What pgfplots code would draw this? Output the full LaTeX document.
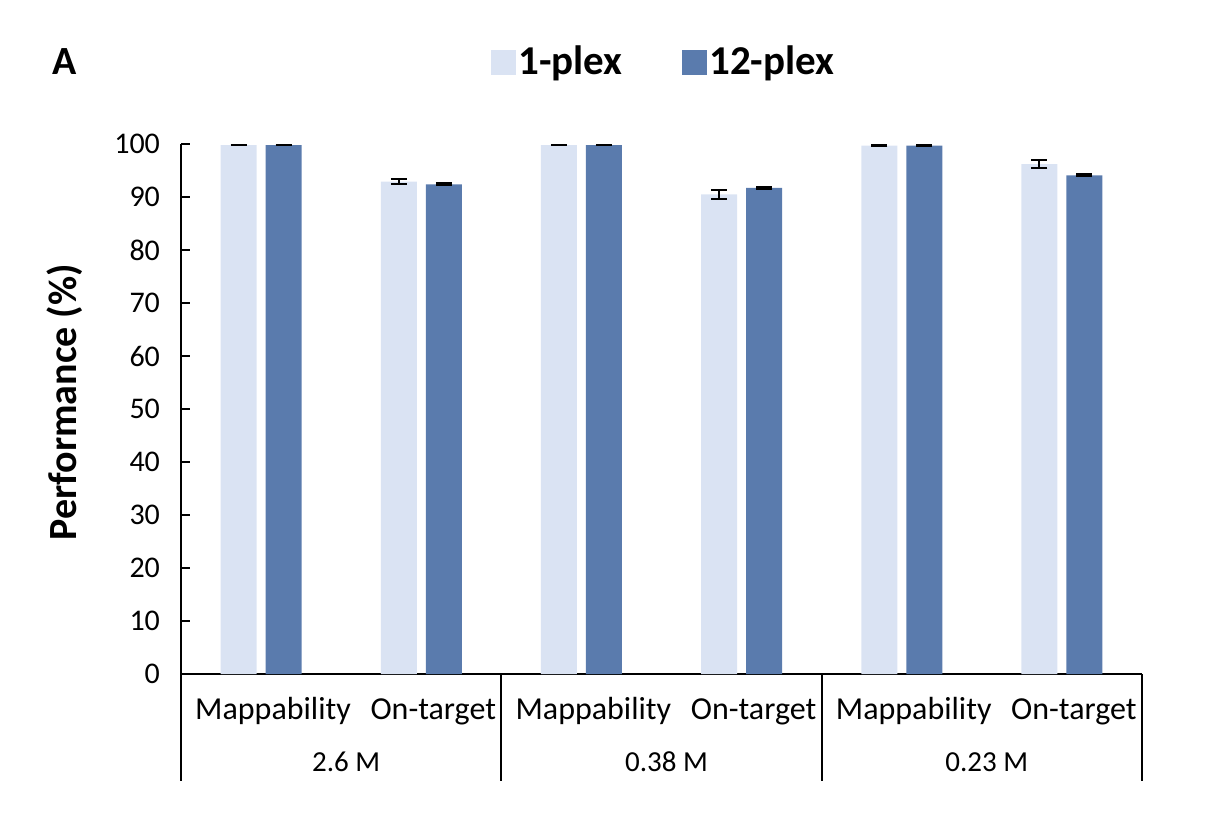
\documentclass[border=0pt]{standalone}
\usepackage{pgfplots}
\pgfplotsset{compat=1.18}
\usepackage{pgfplotstable}
\usepackage{fontspec}
\setmainfont{Carlito}
\definecolor{lightbar}{HTML}{DAE3F3}
\definecolor{darkbar}{HTML}{5A7BAD}
\pgfplotstableread{
x y1 e1 y2 e2
0 99.8 0.08 99.8 0.08
1 92.9 0.5 92.4 0.2
2 99.8 0.05 99.8 0.05
3 90.5 0.8 91.7 0.2
4 99.7 0.05 99.7 0.05
5 96.2 0.75 94.1 0.15
}\data
\begin{document}
\begin{tikzpicture}
\useasboundingbox (0,0) rectangle (604.5pt,418.5pt);
\node[anchor=west, inner sep=0pt, font=\bfseries\fontsize{20}{20}\selectfont] at (26pt,387.5pt) {A};
\begin{axis}[
  at={(90.5pt,81.5pt)}, anchor=south west,
  scale only axis, width=480.5pt, height=265pt,
  clip=false,
  xmin=-0.5, xmax=5.5, ymin=0, ymax=100,
  ytick={0,10,...,100},
  xtick={0,...,5},
  xticklabels={Mappability,On-target,Mappability,On-target,Mappability,On-target},
  axis x line*=bottom, axis y line*=left,
  axis line style={-, line width=1pt, black},
  tick align=inside,
  major tick length=4.5pt,
  ytick style={line width=1pt, black},
  xtick style={draw=none},
  /pgf/number format/assume math mode=true,
  yticklabel style={font=\fontsize{15}{15}\selectfont, xshift=-7pt},
  xticklabel style={font=\fontsize{16}{16}\selectfont, anchor=base, yshift=-18pt, xshift=6pt},
  ylabel={Performance (\%)},
  ylabel style={at={(axis description cs:-0.1207,0.513)}, anchor=center, font=\bfseries\fontsize{20}{20}\selectfont},
  ybar, bar width=18pt,
  legend style={at={(0.5026,1.1547)}, anchor=center, draw=none, fill=none,
    font=\bfseries\fontsize{20.5}{20}\selectfont,
    nodes={inner sep=1.5pt},
    /tikz/every even column/.append style={column sep=28pt}},
  legend columns=2,
]
\addlegendimage{legend image code/.code={\fill[lightbar] (0pt,-6pt) rectangle (12pt,6pt);}}
\addlegendentry{1-plex}
\addlegendimage{legend image code/.code={\fill[darkbar] (0pt,-6pt) rectangle (12pt,6pt);}}
\addlegendentry{12-plex}
\addplot[fill=lightbar, draw=none, bar shift=-11.25pt, forget plot,
  error bars/.cd, y dir=both, y explicit,
  error bar style={line width=1pt, black},
  error mark options={rotate=90, mark size=4pt, line width=1pt, black}]
  table[x=x, y=y1, y error=e1]{\data};
\addplot[fill=darkbar, draw=none, bar shift=11.25pt, forget plot,
  error bars/.cd, y dir=both, y explicit,
  error bar style={line width=1pt, black},
  error mark options={rotate=90, mark size=4pt, line width=1pt, black}]
  table[x=x, y=y2, y error=e2]{\data};
\draw[line width=1pt] (axis cs:-0.5,0) -- ([yshift=-53.5pt]axis cs:-0.5,0);
\draw[line width=1pt] (axis cs:1.5,0) -- ([yshift=-53.5pt]axis cs:1.5,0);
\draw[line width=1pt] (axis cs:3.5,0) -- ([yshift=-53.5pt]axis cs:3.5,0);
\draw[line width=1pt] (axis cs:5.5,0) -- ([yshift=-53.5pt]axis cs:5.5,0);
\node[anchor=base, font=\fontsize{14.5}{15}\selectfont] at (axis cs:0.5,0) [yshift=-48.8pt, xshift=2.5pt] {2.6 M};
\node[anchor=base, font=\fontsize{14.5}{15}\selectfont] at (axis cs:2.5,0) [yshift=-48.8pt, xshift=2.5pt] {0.38 M};
\node[anchor=base, font=\fontsize{14.5}{15}\selectfont] at (axis cs:4.5,0) [yshift=-48.8pt, xshift=2.5pt] {0.23 M};
\end{axis}
\end{tikzpicture}
\end{document}
